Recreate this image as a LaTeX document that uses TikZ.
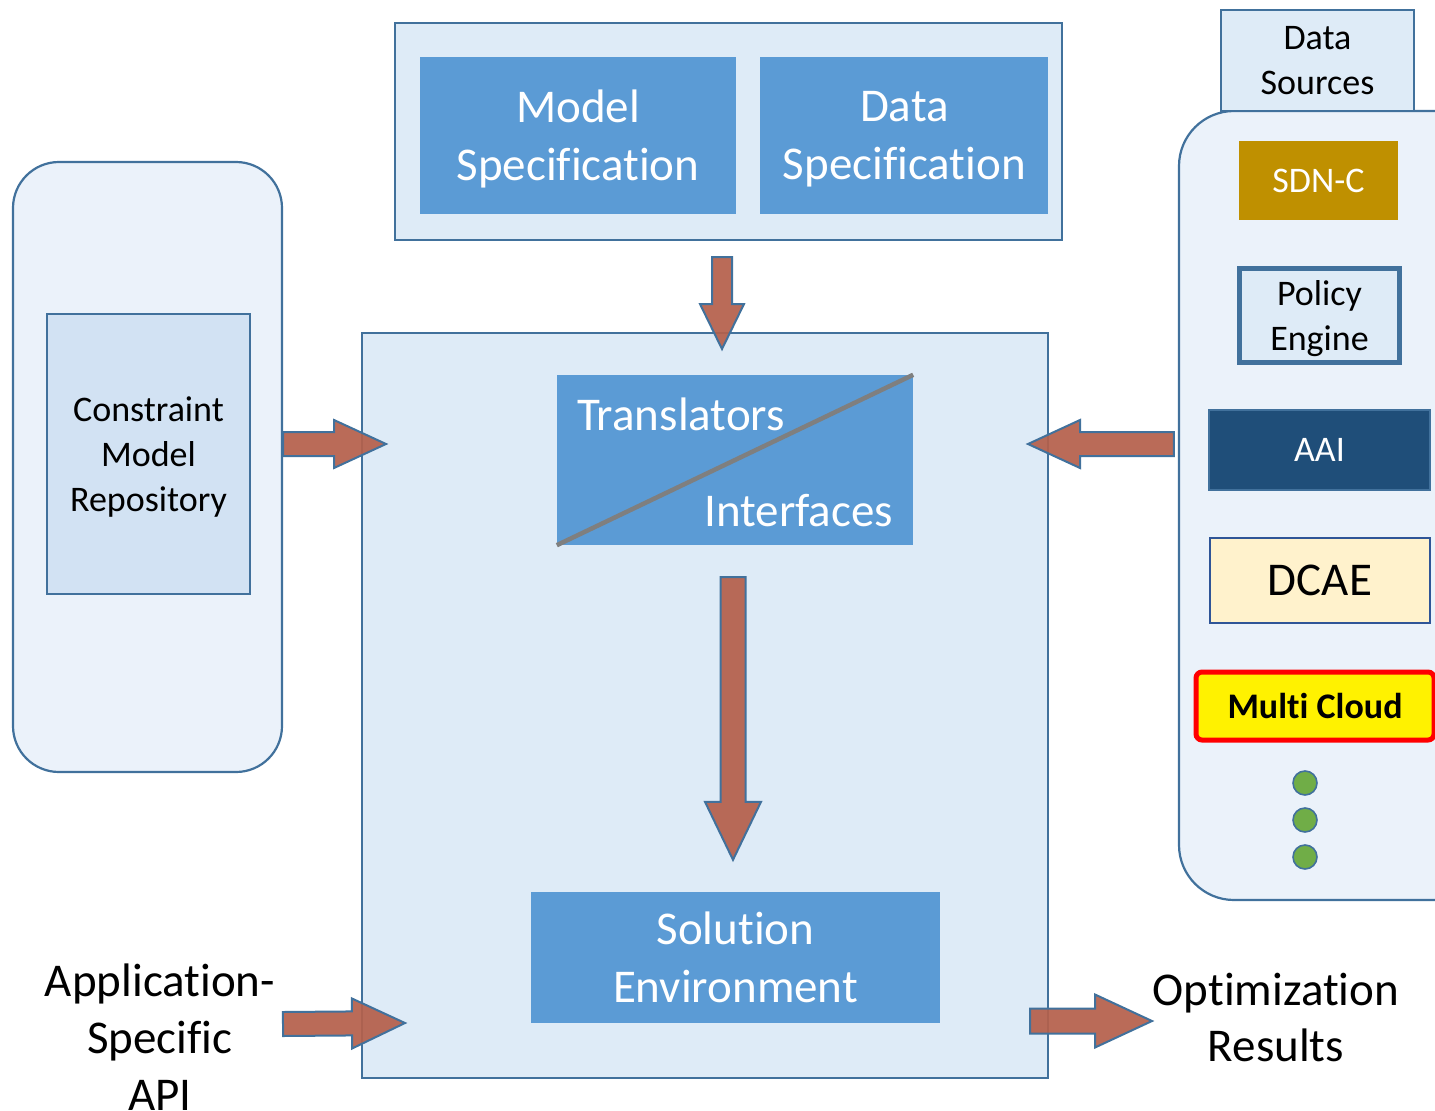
\documentclass[tikz,border=0pt]{standalone}
\usepackage{fontspec}
\setmainfont[Ligatures=NoCommon]{Carlito}
\usetikzlibrary{calc,positioning}
\definecolor{Edge}{HTML}{41719C}
\definecolor{CoreFill}{HTML}{DEEBF7}
\definecolor{PanelFill}{HTML}{EBF2FA}
\definecolor{SpecBlue}{HTML}{5B9BD5}
\definecolor{RepoFill}{HTML}{D2E2F3}
\definecolor{SdnGold}{HTML}{BF9000}
\definecolor{AaiNavy}{HTML}{1F4E79}
\definecolor{DcaeCream}{HTML}{FFF2CC}
\definecolor{DcaeEdge}{HTML}{2F5597}
\definecolor{ArrowRed}{HTML}{B5604B}
\definecolor{DotGreen}{HTML}{70AD47}
\definecolor{Divider}{HTML}{7F7F7F}
\tikzset{
  bigtxt/.style={font=\fontsize{47}{58}\selectfont},
  smalltxt/.style={font=\fontsize{36}{45}\selectfont},
  panel/.style={draw=Edge,fill=PanelFill,line width=2.2pt,rounded corners=46pt,inner sep=0pt},
  frame/.style={draw=Edge,fill=CoreFill,line width=2pt,inner sep=0pt},
  spec/.style={fill=SpecBlue,text=white,align=center,inner sep=0pt,text depth=0pt,bigtxt},
  src/.style={align=center,inner sep=0pt,smalltxt},
  dot/.style={circle,draw=Edge,fill=DotGreen,line width=1.6pt,minimum size=24pt,inner sep=0pt},
  divider/.style={draw=Divider,line width=4.5pt},
  fatarrow/.style n args={3}{draw=Edge,fill=ArrowRed,fill opacity=0.93,line width=2pt,
    to path={($(\tikztostart)!#1!90:(\tikztotarget)$) --
      ($(\tikztotarget)!#3!(\tikztostart)!#1!-90:(\tikztostart)$) --
      ($(\tikztotarget)!#3!(\tikztostart)!#2!-90:(\tikztostart)$) --
      (\tikztotarget) --
      ($(\tikztotarget)!#3!(\tikztostart)!#2!90:(\tikztostart)$) --
      ($(\tikztotarget)!#3!(\tikztostart)!#1!90:(\tikztostart)$) --
      ($(\tikztostart)!#1!-90:(\tikztotarget)$) -- cycle}}
}

\begin{document}
\begin{tikzpicture}[x=1pt,y=-1pt]
  \useasboundingbox (0,0) rectangle (1435,1111);
  % specification block
  \node[frame,minimum width=667pt,minimum height=217pt] (specframe) at (728.5,131.5) {};
  \node[spec,minimum width=316pt,minimum height=157pt] (modelspec) at (578,135.5) {Model\\Specification};
  \node[spec,minimum width=288pt,minimum height=157pt,right=24pt of modelspec] (dataspec) {Data\\Specification};
  % core
  \node[frame,minimum width=686pt,minimum height=745pt] (core) at (705,705.5) {};
  \node[spec,minimum width=356pt,minimum height=170pt] (transbox) at (735,460) {};
  \draw[divider] (transbox.south west) -- (transbox.north east);
  \node[bigtxt,text=white,inner sep=0pt,anchor=west] (translbl) at ($(transbox.north west)+(20,40)$) {Translators};
  \node[bigtxt,text=white,inner sep=0pt,anchor=east] (ifacelbl) at ($(transbox.south east)+(-20,-35)$) {Interfaces};
  \node[spec,minimum width=409pt,minimum height=131pt] (solution) at (735.5,957.5) {Solution\\Environment};
  % constraint models
  \node[panel,minimum width=269pt,minimum height=610pt] (cmpanel) at (147.5,467) {};
  \node[frame,fill=RepoFill,align=center,text depth=0pt,font=\fontsize{36}{45}\selectfont,minimum width=203pt,minimum height=280pt] (cmrepo) at (148.5,454) {Constraint\\Model\\Repository};
  % data sources
  \node[panel,rounded corners=55pt,minimum width=311pt,minimum height=789pt] (srcpanel) at (1334.5,505.5) {};
  \node[frame,line width=2.5pt,src,minimum width=193pt,minimum height=101pt] (srctab) at (1317.5,60.5) {Data\\Sources};
  \node[src,fill=SdnGold,text=white,minimum width=159pt,minimum height=79pt] (sdnc) at (1318.5,180.5) {SDN-C};
  \node[src,draw=Edge,fill=CoreFill,line width=5pt,text depth=0pt,minimum width=160pt,minimum height=94pt] (policy) at (1319.5,315.5) {Policy\\Engine};
  \node[src,draw=Edge,fill=AaiNavy,text=white,line width=2pt,minimum width=221pt,minimum height=80pt] (aai) at (1319.5,450) {AAI};
  \node[src,draw=DcaeEdge,fill=DcaeCream,line width=1.2pt,bigtxt,minimum width=220pt,minimum height=85pt] (dcae) at (1320,580.5) {DCAE};
  \node[src,draw=red,fill=yellow,line width=5pt,rounded corners=6pt,font=\fontsize{36}{45}\selectfont\bfseries,minimum width=238pt,minimum height=68pt] (multicloud) at (1315,706) {Multi Cloud};
  \foreach \y [count=\i] in {783,820,857}
    \node[dot] (dot\i) at (1305,\y) {};
  % outside texts
  \node[bigtxt,align=center,inner sep=0pt,font=\fontsize{47}{57}\selectfont] (apilbl) at (160,1037) {Application-\\Specific\\API};
  \node[bigtxt,align=center,inner sep=0pt,font=\fontsize{47}{56}\selectfont] (resultlbl) at (1276,1017) {Optimization\\Results};
  % arrow ends
  \coordinate (specOut) at ($(specframe.south)+(-6.5,16)$);
  \coordinate (coreInTop) at ($(core.north)+(17,17)$);
  \coordinate (transOut) at ($(transbox.south)+(-2,32)$);
  \coordinate (solIn) at ($(solution.north)+(-2.5,-32)$);
  \coordinate (cmOut) at ($(cmpanel.east)+(0,-23)$);
  \coordinate (coreInL) at (386,444);
  \coordinate (srcOut) at ($(srcpanel.west)+(-4,-61.5)$);
  \coordinate (coreInR) at (1028,444);
  \coordinate (apiOut) at (283,1024);
  \coordinate (coreInApi) at (405,1023);
  \coordinate (coreOut) at (1030,1021);
  \coordinate (resultIn) at (1152,1021);
  % block arrows
  \draw[fatarrow={10pt}{22pt}{45pt}] (specOut) to (coreInTop);
  \draw[fatarrow={12.5pt}{28pt}{58pt}] (transOut) to (solIn);
  \draw[fatarrow={12pt}{24pt}{52pt}] (cmOut) to (coreInL);
  \draw[fatarrow={12pt}{24pt}{52pt}] (srcOut) to (coreInR);
  \draw[fatarrow={12pt}{25pt}{53pt}] (apiOut) to (coreInApi);
  \draw[fatarrow={12.5pt}{26.5pt}{57pt}] (coreOut) to (resultIn);
\end{tikzpicture}
\end{document}
